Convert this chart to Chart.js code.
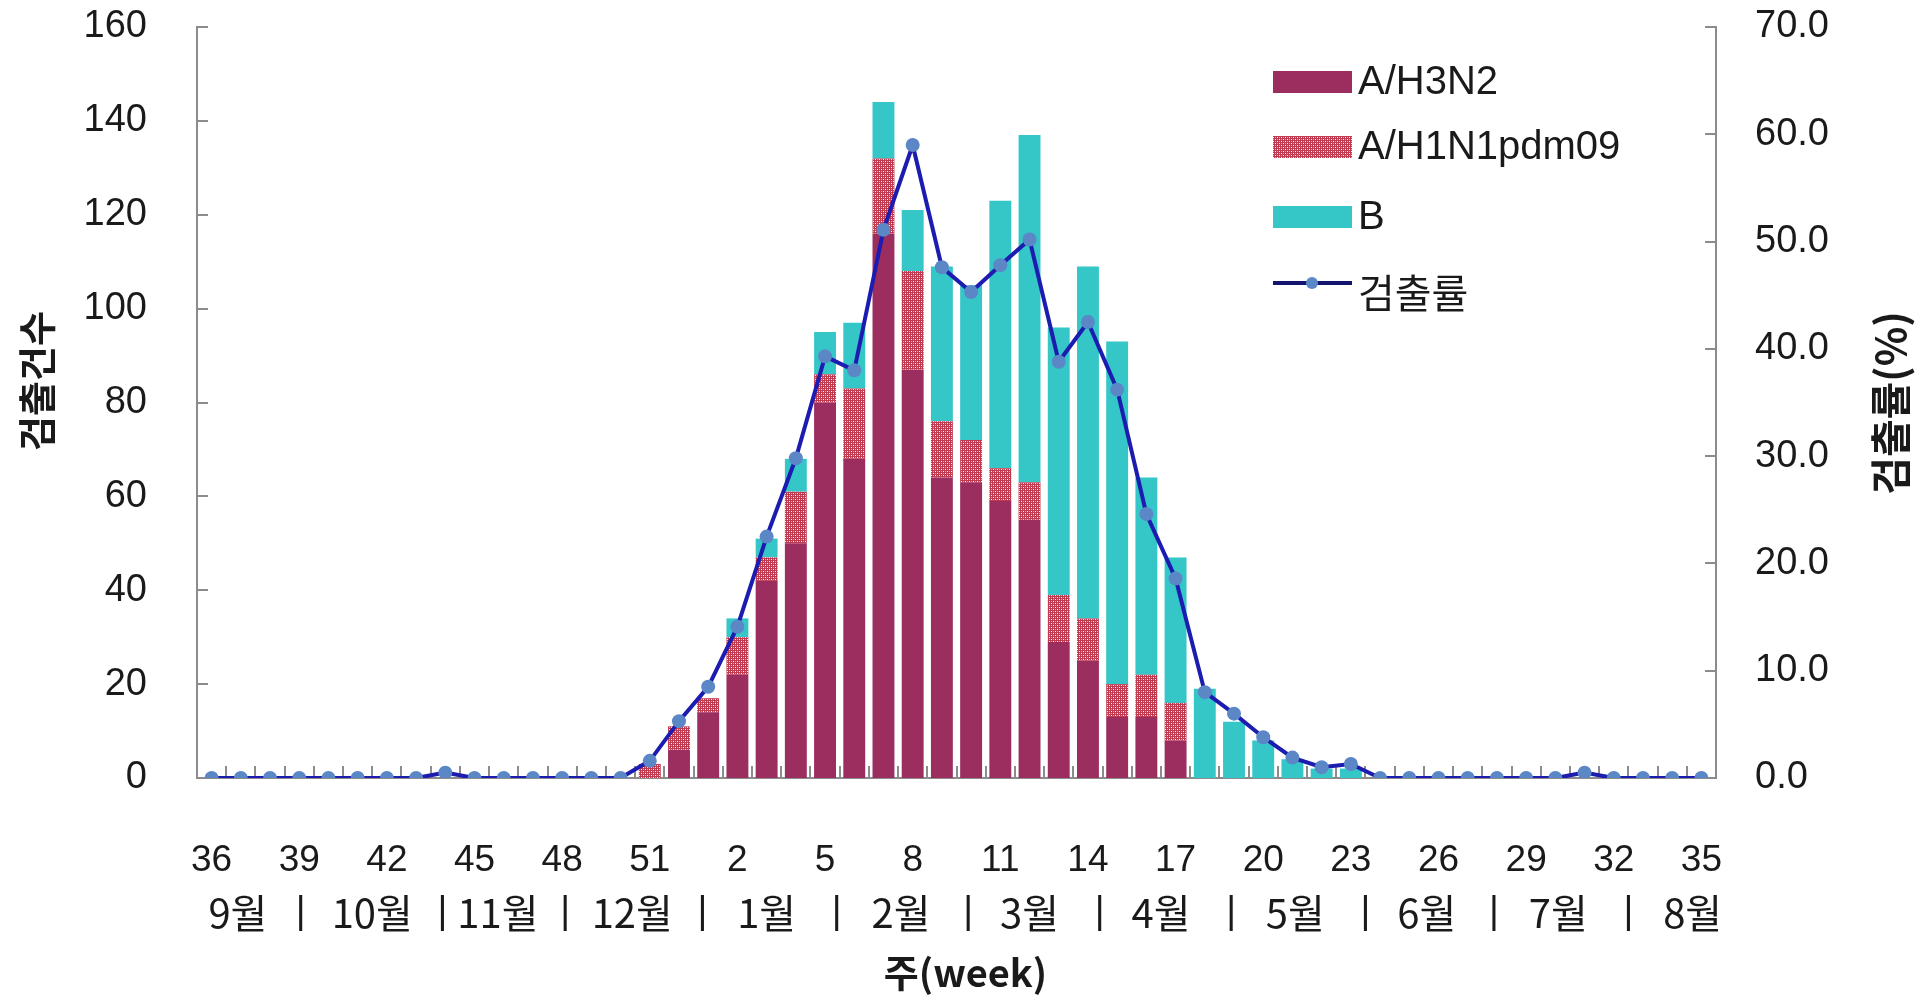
<!DOCTYPE html>
<html>
<head>
<meta charset="utf-8">
<script src="https://cdn.jsdelivr.net/npm/chart.js@4"></script>
<style>
  body { margin: 0; background: #fff; }
  canvas { display: block; }
</style>
</head>
<body>
<canvas id="chart" width="1915" height="997"></canvas>
<script>
// ------------------- DATA -------------------
const weeks = [36, 37, 38, 39, 40, 41, 42, 43, 44, 45, 46, 47, 48, 49, 50, 51, 52,
  1, 2, 3, 4, 5, 6, 7, 8, 9, 10, 11, 12, 13, 14, 15, 16, 17, 18, 19, 20,
  21, 22, 23, 24, 25, 26, 27, 28, 29, 30, 31, 32, 33, 34, 35];
const shownWeeks = [36, 39, 42, 45, 48, 51, 2, 5, 8, 11, 14, 17, 20, 23, 26, 29, 32, 35];

// detections per week (stacked)
const h3n2 = [0, 0, 0, 0, 0, 0, 0, 0, 0, 0, 0, 0, 0, 0, 0, 0, 6,
  14, 22, 42, 50, 80, 68, 116, 87, 64, 63, 59, 55, 29, 25, 13, 13, 8, 0, 0, 0,
  0, 0, 0, 0, 0, 0, 0, 0, 0, 0, 0, 0, 0, 0, 0];
const h1n1 = [0, 0, 0, 0, 0, 0, 0, 0, 0, 0, 0, 0, 0, 0, 0, 3, 5,
  3, 8, 5, 11, 6, 15, 16, 21, 12, 9, 7, 8, 10, 9, 7, 9, 8, 0, 0, 0,
  0, 0, 0, 0, 0, 0, 0, 0, 0, 0, 0, 0, 0, 0, 0];
const typeB = [0, 0, 0, 0, 0, 0, 0, 0, 0, 0, 0, 0, 0, 0, 0, 0, 0,
  0, 4, 4, 7, 9, 14, 12, 13, 33, 33, 57, 74, 57, 75, 73, 42, 31, 19, 12, 8,
  4, 2, 2, 0, 0, 0, 0, 0, 0, 0, 0, 0, 0, 0, 0];
// detection rate (%)
const rate = [0, 0, 0, 0, 0, 0, 0, 0, 0.5, 0, 0, 0, 0, 0, 0, 1.6, 5.3,
  8.5, 14.1, 22.5, 29.8, 39.3, 38.0, 51.1, 59.0, 47.6, 45.3, 47.8, 50.2, 38.8, 42.5, 36.2, 24.6, 18.6, 8.0, 6.0, 3.8,
  1.9, 1.0, 1.3, 0, 0, 0, 0, 0, 0, 0, 0.5, 0, 0, 0, 0];

const monthNames = ['9월', '10월', '11월', '12월', '1월', '2월', '3월', '4월', '5월', '6월', '7월', '8월'];

// ------------------- STYLE -------------------
const FONT = '"Liberation Sans", Arial, "Noto Sans CJK KR", sans-serif';
const KFONT = '"Noto Sans CJK KR", "Liberation Sans", sans-serif';
const colH3 = '#9b2d5f';
const colB = '#35c6c8';
const colLine = '#1c1cb0';
const colDot = '#5b87c7';
const axisGray = '#8c8c8c';

function makeHatch() {
  const c = document.createElement('canvas');
  c.width = 4; c.height = 4;
  const g = c.getContext('2d');
  g.fillStyle = '#c0394f';
  g.fillRect(0, 0, 4, 4);
  g.fillStyle = '#ffffff';
  g.fillRect(1, 1, 1, 1);
  g.fillRect(3, 3, 1, 1);
  g.fillStyle = '#e8a0a8';
  g.fillRect(1, 3, 1, 1);
  g.fillRect(3, 1, 1, 1);
  return g.createPattern(c, 'repeat');
}
const hatch = makeHatch();

// month row positions, in week-index units
const monthCenters = [0.9, 5.5, 9.8, 14.4, 19.0, 23.6, 28.0, 32.5, 37.1, 41.6, 46.1, 50.7];
const monthBreaks = [3.05, 7.9, 12.1, 16.8, 21.4, 25.9, 30.4, 34.9, 39.5, 43.9, 48.5];

// ------------------- EXTRA DRAWING -------------------
const decor = {
  id: 'decor',
  beforeDatasetsDraw(chart) {
    const { ctx, chartArea: a, scales: { x, y, y1 } } = chart;
    ctx.save();
    ctx.strokeStyle = axisGray;
    ctx.lineWidth = 2;
    ctx.beginPath();
    y.ticks.forEach(t => {
      const py = Math.round(y.getPixelForValue(t.value));
      ctx.moveTo(a.left, py); ctx.lineTo(a.left + 11, py);
    });
    y1.ticks.forEach(t => {
      const py = Math.round(y1.getPixelForValue(t.value));
      ctx.moveTo(a.right, py); ctx.lineTo(a.right - 11, py);
    });
    for (let i = 1; i < weeks.length; i++) {
      const px = Math.round(x.getPixelForValue(i - 0.5));
      ctx.moveTo(px, a.bottom); ctx.lineTo(px, a.bottom - 12);
    }
    ctx.stroke();
    ctx.restore();
  },
  afterDraw(chart) {
    const { ctx, chartArea: a, scales: { x } } = chart;
    ctx.save();
    ctx.fillStyle = '#1a1a1a';
    ctx.textBaseline = 'middle';
    ctx.textAlign = 'center';

    // month row
    ctx.font = '40px ' + KFONT;
    monthNames.forEach((m, i) => ctx.fillText(m, x.getPixelForValue(monthCenters[i]), 913));
    ctx.font = '38px ' + FONT;
    monthBreaks.forEach(b => ctx.fillText('|', x.getPixelForValue(b), 913));

    // axis titles
    ctx.font = 'bold 38px ' + KFONT;
    ctx.fillText('주(week)', (a.left + a.right) / 2 + 9, 973);
    ctx.save();
    ctx.translate(37, 381);
    ctx.rotate(-Math.PI / 2);
    ctx.fillText('검출건수', 0, 0);
    ctx.restore();
    ctx.save();
    ctx.font = 'bold 41px ' + KFONT;
    ctx.translate(1890, 403);
    ctx.rotate(-Math.PI / 2);
    ctx.fillText('검출률(%)', 0, 0);
    ctx.restore();

    // legend
    const items = [
      { label: 'A/H3N2', fill: colH3, y: 82 },
      { label: 'A/H1N1pdm09', fill: hatch, y: 147 },
      { label: 'B', fill: colB, y: 217 },
      { label: '검출률', line: true, y: 283 }
    ];
    ctx.textAlign = 'left';
    items.forEach(it => {
      if (it.line) {
        ctx.strokeStyle = '#14146e';
        ctx.lineWidth = 4;
        ctx.beginPath();
        ctx.moveTo(1273, it.y); ctx.lineTo(1352, it.y);
        ctx.stroke();
        ctx.fillStyle = colDot;
        ctx.beginPath();
        ctx.arc(1312, it.y, 6, 0, Math.PI * 2);
        ctx.fill();
        ctx.fillStyle = '#1a1a1a';
        ctx.font = '40px ' + KFONT;
        ctx.fillText(it.label, 1358, it.y + 10);
      } else {
        ctx.fillStyle = it.fill;
        ctx.fillRect(1273, it.y - 11, 79, 22);
        ctx.fillStyle = '#1a1a1a';
        ctx.font = '40px ' + FONT;
        ctx.fillText(it.label, 1358, it.y + 1);
      }
    });
    ctx.restore();
  }
};

// ------------------- CHART -------------------
const tickFont = { family: FONT, size: 38 };

new Chart(document.getElementById('chart'), {
  data: {
    labels: weeks,
    datasets: [
      { type: 'line', label: '검출률', data: rate, yAxisID: 'y1', order: 0,
        borderColor: colLine, borderWidth: 4, tension: 0,
        pointRadius: 7, pointHoverRadius: 7, pointBorderWidth: 0,
        pointBackgroundColor: colDot },
      { type: 'bar', label: 'A/H3N2', data: h3n2, yAxisID: 'y', order: 1,
        backgroundColor: colH3, categoryPercentage: 0.75, barPercentage: 1 },
      { type: 'bar', label: 'A/H1N1pdm09', data: h1n1, yAxisID: 'y', order: 1,
        backgroundColor: hatch, categoryPercentage: 0.75, barPercentage: 1 },
      { type: 'bar', label: 'B', data: typeB, yAxisID: 'y', order: 1,
        backgroundColor: colB, categoryPercentage: 0.75, barPercentage: 1 }
    ]
  },
  options: {
    responsive: false,
    devicePixelRatio: 1,
    animation: false,
    layout: { padding: { top: 27, left: 0, right: 0, bottom: 0 } },
    plugins: { legend: { display: false }, tooltip: { enabled: false } },
    scales: {
      x: {
        stacked: true,
        grid: { display: false, drawTicks: true, tickLength: 61 },
        border: { color: axisGray, width: 2 },
        ticks: {
          font: { family: FONT, size: 37 }, color: '#1a1a1a', padding: 0,
          autoSkip: false, maxRotation: 0,
          callback: (v, i) => shownWeeks.includes(weeks[i]) ? String(weeks[i]) : ''
        },
        afterFit: s => { s.height = 219; }
      },
      y: {
        position: 'left', stacked: true, min: 0, max: 160,
        grid: { display: false, drawTicks: true, tickLength: 50 },
        border: { color: axisGray, width: 2 },
        ticks: { stepSize: 20, font: tickFont, color: '#1a1a1a', padding: 0 },
        afterFit: s => { s.width = 197; }
      },
      y1: {
        position: 'right', min: 0, max: 70,
        grid: { display: false, drawTicks: true, tickLength: 39 },
        border: { color: axisGray, width: 2 },
        ticks: { stepSize: 10, font: tickFont, color: '#1a1a1a', padding: 0,
          callback: v => v.toFixed(1) },
        afterFit: s => { s.width = 199; }
      }
    }
  },
  plugins: [decor]
});
</script>
</body>
</html>
